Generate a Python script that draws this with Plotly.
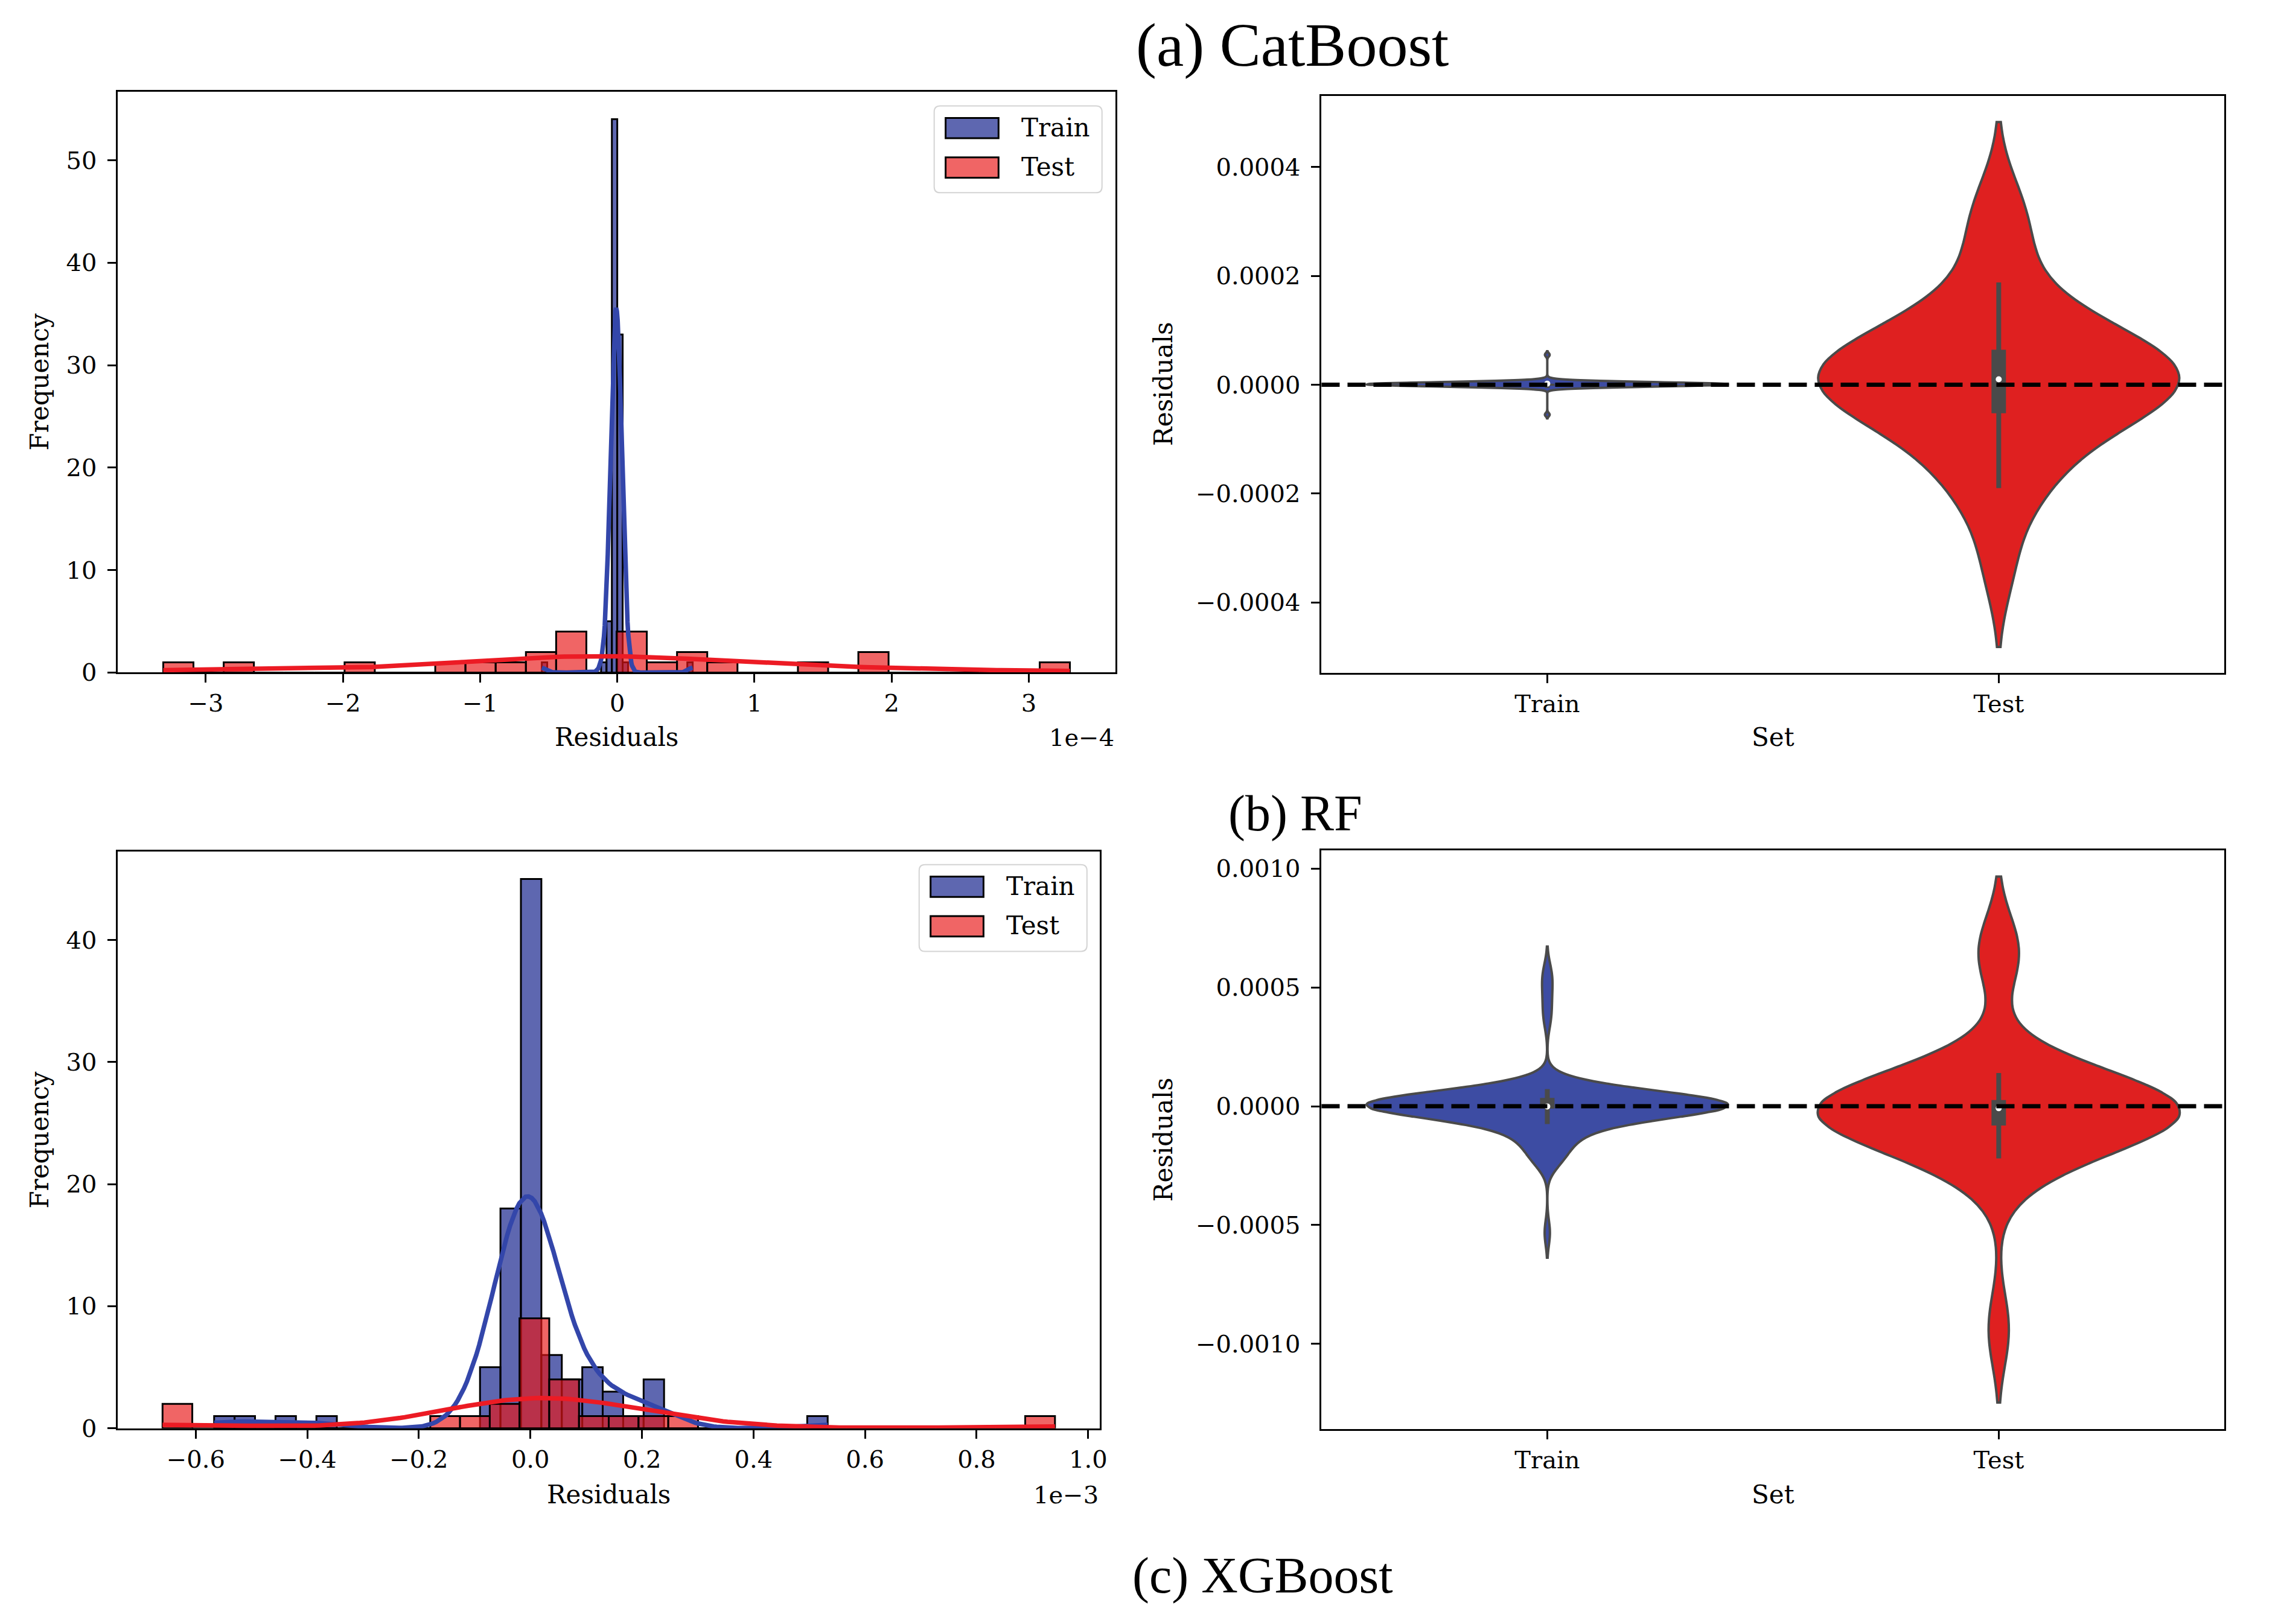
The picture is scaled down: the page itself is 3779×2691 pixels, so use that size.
import numpy as np
import plotly.graph_objects as go

W, H = 3779, 2691

# ---------------- data ----------------
# (b) RF: residuals in units of 1e-4
RF_UNIT = 1e-4
rf_train_values = [-0.55, -0.098, -0.059, -0.0196, 0.0196, 0.059, 0.55]
rf_train_counts = [1, 1, 5, 54, 33, 1, 1]
rf_test = [-3.31, -2.76, -1.88, -1.22, -1.0, -0.78, -0.6, -0.52, -0.4, -0.35, -0.3, -0.25,
           0.05, 0.1, 0.12, 0.18, 0.33, 0.5, 0.6, 0.77, 1.43, 1.82, 1.9, 3.30]
rf_bins = (28, 30)  # train, test
rf_xticks = [-3, -2, -1, 0, 1, 2, 3]
rf_yticks = [0, 10, 20, 30, 40, 50]
rf_vticks = [-0.0004, -0.0002, 0.0, 0.0002, 0.0004]

# (c) XGBoost: residuals in units of 1e-3
XGB_UNIT = 1e-3
xgb_train_values = [-0.567, -0.512, -0.439, -0.365, -0.072, -0.035, 0.001, 0.038,
                    0.075, 0.111, 0.148, 0.185, 0.221, 0.533]
xgb_train_counts = [1, 1, 1, 1, 5, 18, 45, 6, 4, 5, 3, 1, 4, 1]
xgb_test = [-0.6595, -0.633, -0.14, -0.10, -0.065, -0.05, -0.018, -0.015, -0.01, -0.005,
            0.0, 0.005, 0.012, 0.02, 0.03, 0.05, 0.07, 0.08, 0.085, 0.12, 0.165, 0.22,
            0.27, 0.9405]
xgb_bins = (30, 30)
xgb_xticks = [-0.6, -0.4, -0.2, 0.0, 0.2, 0.4, 0.6, 0.8, 1.0]
xgb_yticks = [0, 10, 20, 30, 40]
xgb_vticks = [-0.0010, -0.0005, 0.0, 0.0005, 0.0010]

sets = ["Train", "Test"]
captions = ["(a) CatBoost", "(b) RF", "(c) XGBoost"]

# ---------------- styles ----------------
FONT = "DejaVu Serif"
CAP_FONT = "Liberation Serif"
BLUE_BAR = "rgba(40,52,150,0.75)"
RED_BAR = "rgba(232,22,22,0.66)"
BLUE_LINE = "#3346aa"
RED_LINE = "#ec1b24"
BLUE_VIO = "#3d4ca3"
RED_VIO = "#df2020"
EDGE = "#4a4a4a"


def fx(px):
    return px / W


def fy(py):
    return 1 - py / H


def minus(s):
    return s.replace("-", "\u2212")


def kde_counts(vals, binw):
    # gaussian kde (scott bandwidth), evaluated over the data range, scaled to counts
    bw = vals.std(ddof=1) * len(vals) ** -0.2
    grid = np.linspace(vals.min(), vals.max(), 200)
    dens = np.exp(-0.5 * ((grid[:, None] - vals[None, :]) / bw) ** 2).sum(axis=1)
    dens /= len(vals) * bw * np.sqrt(2 * np.pi)
    return grid, dens * len(vals) * binw


fig = go.Figure()


def add_hist(train, test, bins, xa, ya):
    for vals, nb, bar_col, line_col in [(train, bins[0], BLUE_BAR, BLUE_LINE),
                                        (test, bins[1], RED_BAR, RED_LINE)]:
        counts, edges = np.histogram(vals, bins=nb)
        binw = edges[1] - edges[0]
        fig.add_trace(go.Bar(
            x=(edges[:-1] + edges[1:]) / 2, y=counts, width=binw,
            marker=dict(color=bar_col, line=dict(color="black", width=3)),
            xaxis=xa, yaxis=ya, showlegend=False, hoverinfo="skip"))
        gx, gy = kde_counts(vals, binw)
        fig.add_trace(go.Scatter(
            x=gx, y=gy, mode="lines", line=dict(color=line_col, width=7.5),
            xaxis=xa, yaxis=ya, showlegend=False, hoverinfo="skip"))


def add_violins(train, test, xa, ya):
    # the violin panels show the residuals with the opposite sign convention
    for name, vals, fill in [("Train", -train, BLUE_VIO), ("Test", -test, RED_VIO)]:
        bw = vals.std(ddof=1) * len(vals) ** -0.2
        fig.add_trace(go.Violin(
            x=[name] * len(vals), y=vals, name=name, bandwidth=bw, spanmode="soft",
            width=0.8, scalemode="width", fillcolor=fill, opacity=1,
            line=dict(color=EDGE, width=4), points=False,
            box=dict(visible=False), meanline=dict(visible=False),
            xaxis=xa, yaxis=ya, showlegend=False, hoverinfo="skip"))
        q1, med, q3 = np.percentile(vals, [25, 50, 75])
        lim = 1.5 * (q3 - q1)
        lo = vals[vals >= q1 - lim].min()
        hi = vals[vals <= q3 + lim].max()
        fig.add_trace(go.Scatter(x=[name, name], y=[lo, hi], mode="lines",
                                 line=dict(color=EDGE, width=8),
                                 xaxis=xa, yaxis=ya, showlegend=False, hoverinfo="skip"))
        fig.add_trace(go.Scatter(x=[name, name], y=[q1, q3], mode="lines",
                                 line=dict(color=EDGE, width=24),
                                 xaxis=xa, yaxis=ya, showlegend=False, hoverinfo="skip"))
        fig.add_trace(go.Scatter(x=[name], y=[med], mode="markers",
                                 marker=dict(color="white", size=10, symbol="circle"),
                                 xaxis=xa, yaxis=ya, showlegend=False, hoverinfo="skip"))


rf_train = np.repeat(rf_train_values, rf_train_counts) * RF_UNIT
rf_te = np.array(rf_test) * RF_UNIT
xgb_train = np.repeat(xgb_train_values, xgb_train_counts) * XGB_UNIT
xgb_te = np.array(xgb_test) * XGB_UNIT

add_hist(rf_train, rf_te, rf_bins, "x", "y")
add_violins(rf_train, rf_te, "x2", "y2")
add_hist(xgb_train, xgb_te, xgb_bins, "x3", "y3")
add_violins(xgb_train, xgb_te, "x4", "y4")


def data_range(lo, hi, pad=0.05):
    span = hi - lo
    return [lo - pad * span, hi + pad * span]


def violin_extent(train, test):
    ext = []
    for v in (-train, -test):
        bw = v.std(ddof=1) * len(v) ** -0.2
        ext += [v.min() - 2 * bw, v.max() + 2 * bw]
    return data_range(min(ext), max(ext))


axis_style = dict(showline=True, linecolor="black", linewidth=3, mirror=True,
                  ticks="outside", ticklen=14, tickwidth=3, tickcolor="black",
                  showgrid=False, zeroline=False,
                  tickfont=dict(family=FONT, size=40, color="black"))

# panel boxes in pixels: (left, right, top, bottom)
P_H1 = (188, 1846, 145, 1116)
P_V1 = (2189, 3690, 152, 1117)
P_H2 = (188, 1820, 1415, 2379)
P_V2 = (2189, 3690, 1413, 2380)


def dom(p):
    return [fx(p[0]), fx(p[1])], [fy(p[3]), fy(p[2])]


layout_axes = {}
for i, p in enumerate([P_H1, P_V1, P_H2, P_V2], start=1):
    xd, yd = dom(p)
    sx = "" if i == 1 else str(i)
    layout_axes["xaxis" + sx] = dict(axis_style, domain=xd, anchor="y" + sx, ticklabelstandoff=0)
    layout_axes["yaxis" + sx] = dict(axis_style, domain=yd, anchor="x" + sx, ticklabelstandoff=10)

rf_all = np.concatenate([rf_train, rf_te])
xgb_all = np.concatenate([xgb_train, xgb_te])

layout_axes["xaxis"].update(range=data_range(rf_all.min(), rf_all.max()),
                            tickvals=[t * RF_UNIT for t in rf_xticks],
                            ticktext=[minus(f"{t:g}") for t in rf_xticks])
layout_axes["yaxis"].update(range=[0, max(rf_train_counts) * 1.05], tickvals=rf_yticks,
                            ticktext=[str(t) for t in rf_yticks])
layout_axes["xaxis3"].update(range=data_range(xgb_all.min(), xgb_all.max()),
                             tickvals=[t * XGB_UNIT for t in xgb_xticks],
                             ticktext=[minus(f"{t:.1f}") for t in xgb_xticks])
layout_axes["yaxis3"].update(range=[0, max(xgb_train_counts) * 1.05], tickvals=xgb_yticks,
                             ticktext=[str(t) for t in xgb_yticks])
for sx, (tr, te), vt in [("2", (rf_train, rf_te), rf_vticks), ("4", (xgb_train, xgb_te), xgb_vticks)]:
    layout_axes["xaxis" + sx].update(type="category", categoryorder="array",
                                     categoryarray=sets, range=[-0.5, 1.5])
    layout_axes["yaxis" + sx].update(range=violin_extent(tr, te), tickvals=vt,
                                     ticktext=[minus(f"{t:.4f}") for t in vt])

fig.update_layout(
    width=W, height=H, margin=dict(l=0, r=0, t=0, b=0),
    paper_bgcolor="white", plot_bgcolor="white",
    barmode="overlay", violinmode="overlay", showlegend=False,
    **layout_axes)

# dashed zero line across the violin panels
for sx in ["2", "4"]:
    fig.add_shape(type="line", xref=f"x{sx} domain", yref=f"y{sx}", x0=0, x1=1, y0=0, y1=0,
                  line=dict(color="black", width=7, dash="30px,13px"), layer="above")


def text(x, y, s, size=42, angle=0, xanchor="center", family=FONT):
    fig.add_annotation(x=fx(x), y=fy(y), xref="paper", yref="paper", text=s,
                       showarrow=False, textangle=angle, xanchor=xanchor, yanchor="middle",
                       font=dict(family=family, size=size, color="black"))


# axis titles
text(1017, 1224, "Residuals")
text(1846, 1224, "1e\u22124", size=40, xanchor="right")
text(58, 630, "Frequency", angle=-90)
text(2940, 1224, "Set")
text(1926, 634, "Residuals", angle=-90)
text(1004, 2490, "Residuals")
text(1820, 2490, "1e\u22123", size=40, xanchor="right")
text(58, 1897, "Frequency", angle=-90)
text(2940, 2490, "Set")
text(1926, 1897, "Residuals", angle=-90)

# captions
text(2140, 67, captions[0], size=102, family=CAP_FONT)
text(2145, 1352, captions[1], size=84, family=CAP_FONT)
text(2091, 2625, captions[2], size=84, family=CAP_FONT)


def add_legend(right, top):
    fl, fr, ft, fb = right - 279, right, top, top + 145
    r = 10
    path = (f"M {fx(fl + r)},{fy(ft)} L {fx(fr - r)},{fy(ft)} Q {fx(fr)},{fy(ft)} {fx(fr)},{fy(ft + r)} "
            f"L {fx(fr)},{fy(fb - r)} Q {fx(fr)},{fy(fb)} {fx(fr - r)},{fy(fb)} "
            f"L {fx(fl + r)},{fy(fb)} Q {fx(fl)},{fy(fb)} {fx(fl)},{fy(fb - r)} "
            f"L {fx(fl)},{fy(ft + r)} Q {fx(fl)},{fy(ft)} {fx(fl + r)},{fy(ft)} Z")
    fig.add_shape(type="path", xref="paper", yref="paper", path=path,
                  fillcolor="rgba(255,255,255,0.8)", line=dict(color="#d4d4d4", width=2))
    for i, (label, col) in enumerate(zip(sets, [BLUE_BAR, RED_BAR])):
        pt = ft + 20 + i * 66
        fig.add_shape(type="rect", xref="paper", yref="paper",
                      x0=fx(fl + 19), x1=fx(fl + 107), y0=fy(pt + 34), y1=fy(pt),
                      fillcolor=col, line=dict(color="black", width=3))
        text(fl + 143, pt + 16, label, size=42, xanchor="left")


add_legend(1824, 169)
add_legend(1799, 1437)

fig.write_html("out.html")
